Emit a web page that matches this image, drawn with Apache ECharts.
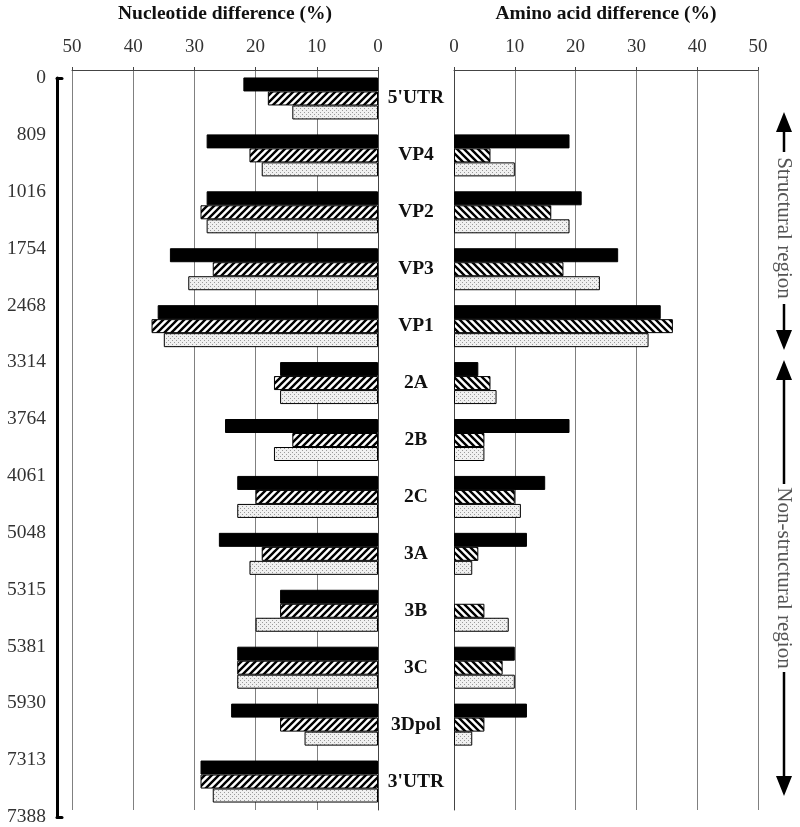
<!DOCTYPE html>
<html>
<head>
<meta charset="utf-8">
<script src="https://cdn.jsdelivr.net/npm/echarts@6/dist/echarts.min.js"></script>
<style>html,body{margin:0;padding:0;background:#fff}#c{width:800px;height:827px}</style>
</head>
<body>
<div id="c"></div>
<script>
// ---- data ----
var regions = ["5'UTR", "VP4", "VP2", "VP3", "VP1", "2A", "2B", "2C", "3A", "3B", "3C", "3Dpol", "3'UTR"];
var genomePositions = ["0", "809", "1016", "1754", "2468", "3314", "3764", "4061", "5048", "5315", "5381", "5930", "7313", "7388"];
var diffTicks = [0, 10, 20, 30, 40, 50];
// nucleotide difference (%)
var ntSolid   = [22, 28, 28, 34, 36, 16, 25, 23, 26, 16, 23, 24, 29];
var ntHatched = [18, 21, 29, 27, 37, 17, 14, 20, 19, 16, 23, 16, 29];
var ntDotted  = [14, 19, 28, 31, 35, 16, 17, 23, 21, 20, 23, 12, 27];
// amino acid difference (%)
var aaSolid   = [null, 19, 21, 27, 34, 4, 19, 15, 12, null, 10, 12, null];
var aaHatched = [null, 6, 16, 18, 36, 6, 5, 10, 4, 5, 8, 5, null];
var aaDotted  = [null, 10, 19, 24, 32, 7, 5, 11, 3, 9, 10, 3, null];

// ---- patterns ----
function hatch(dir) {
  var s = 7, c = document.createElement('canvas');
  c.width = s; c.height = s;
  var g = c.getContext('2d');
  g.fillStyle = '#fff'; g.fillRect(0, 0, s, s);
  g.strokeStyle = '#000'; g.lineWidth = 2.4;
  g.beginPath();
  if (dir > 0) {
    g.moveTo(-1, s + 1); g.lineTo(s + 1, -1);
    g.moveTo(-2, 2); g.lineTo(2, -2);
    g.moveTo(s - 2, s + 2); g.lineTo(s + 2, s - 2);
  } else {
    g.moveTo(-1, -1); g.lineTo(s + 1, s + 1);
    g.moveTo(-2, s - 2); g.lineTo(2, s + 2);
    g.moveTo(s - 2, -2); g.lineTo(s + 2, 2);
  }
  g.stroke();
  return { image: c, repeat: 'repeat' };
}
function dots() {
  var c = document.createElement('canvas');
  c.width = 4; c.height = 4;
  var g = c.getContext('2d');
  g.fillStyle = '#f0f0f0'; g.fillRect(0, 0, 4, 4);
  g.fillStyle = '#9a9a9a';
  g.fillRect(0, 0, 1, 1); g.fillRect(2, 2, 1, 1);
  return { image: c, repeat: 'repeat' };
}

var FONT = "'Liberation Serif','Times New Roman',serif";
var chart = echarts.init(document.getElementById('c'), null, { renderer: 'canvas' });

function valAxis(idx, inverse, name) {
  return {
    type: 'value', gridIndex: idx, min: 0, max: 50, interval: 10, inverse: inverse,
    position: 'top', name: name, nameLocation: 'middle', nameGap: 46,
    nameTextStyle: { fontFamily: FONT, fontWeight: 'bold', fontSize: 19.5, color: '#111' },
    axisLine: { show: true, lineStyle: { color: '#444', width: 1 } },
    axisTick: { show: true, length: 3, lineStyle: { color: '#444' } },
    axisLabel: { fontFamily: FONT, fontSize: 19, color: '#333', margin: 13 },
    splitLine: { show: true, lineStyle: { color: '#808080', width: 1 } }
  };
}
function bar(name, data, xi, color) {
  return {
    type: 'bar', name: name, data: data, xAxisIndex: xi, yAxisIndex: xi,
    barWidth: 14, barGap: '0%',
    itemStyle: { color: color, borderColor: '#000', borderWidth: 1 },
    silent: true
  };
}

var ax = 784;
var option = {
  animation: false,
  backgroundColor: '#fff',
  grid: [
    { left: 72, right: 422, top: 70, bottom: 17, outerBoundsMode: 'none', containLabel: false },
    { left: 454, right: 42, top: 70, bottom: 17, outerBoundsMode: 'none', containLabel: false },
    { left: 57, width: 5, top: 78, bottom: 10, outerBoundsMode: 'none', containLabel: false }
  ],
  xAxis: [
    valAxis(0, true, 'Nucleotide difference (%)'),
    valAxis(1, false, 'Amino acid difference (%)'),
    { type: 'category', gridIndex: 2, data: [''], position: 'top',
      axisLine: { lineStyle: { color: '#000', width: 3 } }, axisTick: { show: false }, axisLabel: { show: false } },
    { type: 'category', gridIndex: 2, data: [''], position: 'bottom',
      axisLine: { lineStyle: { color: '#000', width: 3 } }, axisTick: { show: false }, axisLabel: { show: false } }
  ],
  yAxis: [
    { type: 'category', gridIndex: 0, data: regions, inverse: true, position: 'right',
      axisLine: { lineStyle: { color: '#444' } }, axisTick: { length: 4, lineStyle: { color: '#444' } },
      axisLabel: { fontFamily: FONT, fontWeight: 'bold', fontSize: 19.5, color: '#111', align: 'center', margin: 38 } },
    { type: 'category', gridIndex: 1, data: regions, inverse: true, position: 'left',
      axisLine: { lineStyle: { color: '#444' } }, axisTick: { length: 4, lineStyle: { color: '#444' } },
      axisLabel: { show: false } },
    { type: 'category', gridIndex: 2, data: genomePositions, inverse: true, position: 'left', boundaryGap: false,
      axisLine: { lineStyle: { color: '#000', width: 3 } }, axisTick: { length: 8, lineStyle: { color: '#000', width: 2 } },
      axisLabel: { fontFamily: FONT, fontSize: 19.5, color: '#333', margin: 11, interval: 0 } }
  ],
  series: [
    bar('nt1', ntSolid, 0, '#000'),
    bar('nt2', ntHatched, 0, hatch(1)),
    bar('nt3', ntDotted, 0, dots()),
    bar('aa1', aaSolid, 1, '#000'),
    bar('aa2', aaHatched, 1, hatch(-1)),
    bar('aa3', aaDotted, 1, dots())
  ],
  graphic: [
    // structural region arrow
    { type: 'polygon', shape: { points: [[ax, 112], [ax - 8, 132], [ax + 8, 132]] }, style: { fill: '#000' } },
    { type: 'line', shape: { x1: ax, y1: 131, x2: ax, y2: 152 }, style: { stroke: '#000', lineWidth: 2.5 } },
    { type: 'text', x: ax, y: 228, rotation: -Math.PI / 2,
      style: { text: 'Structural region', font: "21px " + FONT, fill: '#555', textAlign: 'center', textVerticalAlign: 'middle' } },
    { type: 'line', shape: { x1: ax, y1: 304, x2: ax, y2: 331 }, style: { stroke: '#000', lineWidth: 2.5 } },
    { type: 'polygon', shape: { points: [[ax, 350], [ax - 8, 330], [ax + 8, 330]] }, style: { fill: '#000' } },
    // non-structural region arrow
    { type: 'polygon', shape: { points: [[ax, 360], [ax - 8, 380], [ax + 8, 380]] }, style: { fill: '#000' } },
    { type: 'line', shape: { x1: ax, y1: 379, x2: ax, y2: 484 }, style: { stroke: '#000', lineWidth: 2.5 } },
    { type: 'text', x: ax, y: 578, rotation: -Math.PI / 2,
      style: { text: 'Non-structural region', font: "21px " + FONT, fill: '#555', textAlign: 'center', textVerticalAlign: 'middle' } },
    { type: 'line', shape: { x1: ax, y1: 672, x2: ax, y2: 777 }, style: { stroke: '#000', lineWidth: 2.5 } },
    { type: 'polygon', shape: { points: [[ax, 796], [ax - 8, 776], [ax + 8, 776]] }, style: { fill: '#000' } }
  ]
};
chart.setOption(option);
</script>
</body>
</html>
